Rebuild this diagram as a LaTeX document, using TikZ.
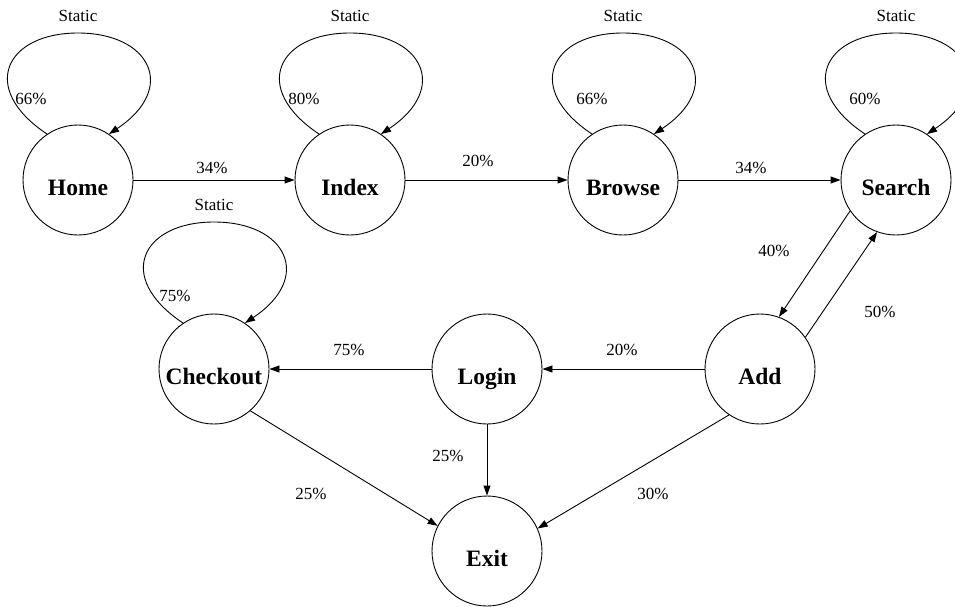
\documentclass[tikz,border=0pt]{standalone}
\usepackage{fontspec}
\setmainfont{Liberation Serif}
\usetikzlibrary{arrows.meta,calc}

\tikzset{
  state/.style={circle, draw, line width=0.9pt, minimum size=110pt, inner sep=0pt,
    text height=31pt, text depth=0pt, font=\fontsize{23.5}{28}\selectfont\bfseries},
  edge/.style={line width=0.9pt, -{Triangle[length=10pt,width=7pt]}},
  lbl/.style={anchor=base, inner sep=0pt, font=\fontsize{17}{20}\selectfont},
}

% self transition drawn above a state, with its "Static" caption
\newcommand\staticloop[1]{%
  \draw[edge] (#1.124)
    .. controls ($(#1)+(-100,-92)$) and ($(#1)+(-72,-147)$) .. ($(#1)+(0,-147)$)
    .. controls ($(#1)+(72,-147)$) and ($(#1)+(100,-92)$) .. (#1.56);
  \node[lbl] (#1-static) at ($(#1)+(0,-159)$) {Static};
}

\begin{document}
\begin{tikzpicture}[x=1pt, y=-1pt]
  \useasboundingbox (0,0) rectangle (955,606);

  % states
  \node[state] (home)     at (78,180)  {Home};
  \node[state] (index)    at (350,180) {Index};
  \node[state] (browse)   at (623,180) {Browse};
  \node[state] (search)   at (896,180) {Search};
  \node[state] (checkout) at (214,369) {Checkout};
  \node[state] (login)    at (487,369) {Login};
  \node[state] (add)      at (760,369) {Add};
  \node[state] (exit)     at (487,551) {Exit};

  % self loops
  \staticloop{home}
  \staticloop{index}
  \staticloop{browse}
  \staticloop{search}
  \staticloop{checkout}

  \node[lbl] (l-home)     at (31,104)  {66\%};
  \node[lbl] (l-index)    at (304,104) {80\%};
  \node[lbl] (l-browse)   at (592,104) {66\%};
  \node[lbl] (l-search)   at (865,104) {60\%};
  \node[lbl] (l-checkout) at (175,301) {75\%};

  % transitions
  \draw[edge] (home) -- (index);
  \draw[edge] (index) -- (browse);
  \draw[edge] (browse) -- (search);
  \draw[edge] (search.214) -- (add.70);
  \draw[edge] (add.35) -- (search.250);
  \draw[edge] (add) -- (login);
  \draw[edge] (login) -- (checkout);
  \draw[edge] (login) -- (exit);
  \draw[edge] (checkout.311) -- (exit.153);
  \draw[edge] (add.236) -- (exit.24);

  \node[lbl] (l-hi) at (212,173) {34\%};
  \node[lbl] (l-ib) at (478,166) {20\%};
  \node[lbl] (l-bs) at (751,173) {34\%};
  \node[lbl] (l-sa) at (774,256) {40\%};
  \node[lbl] (l-as) at (880,317) {50\%};
  \node[lbl] (l-al) at (622,355) {20\%};
  \node[lbl] (l-lc) at (349,355) {75\%};
  \node[lbl] (l-le) at (448,461) {25\%};
  \node[lbl] (l-ce) at (311,499) {25\%};
  \node[lbl] (l-ae) at (653,499) {30\%};
\end{tikzpicture}
\end{document}
